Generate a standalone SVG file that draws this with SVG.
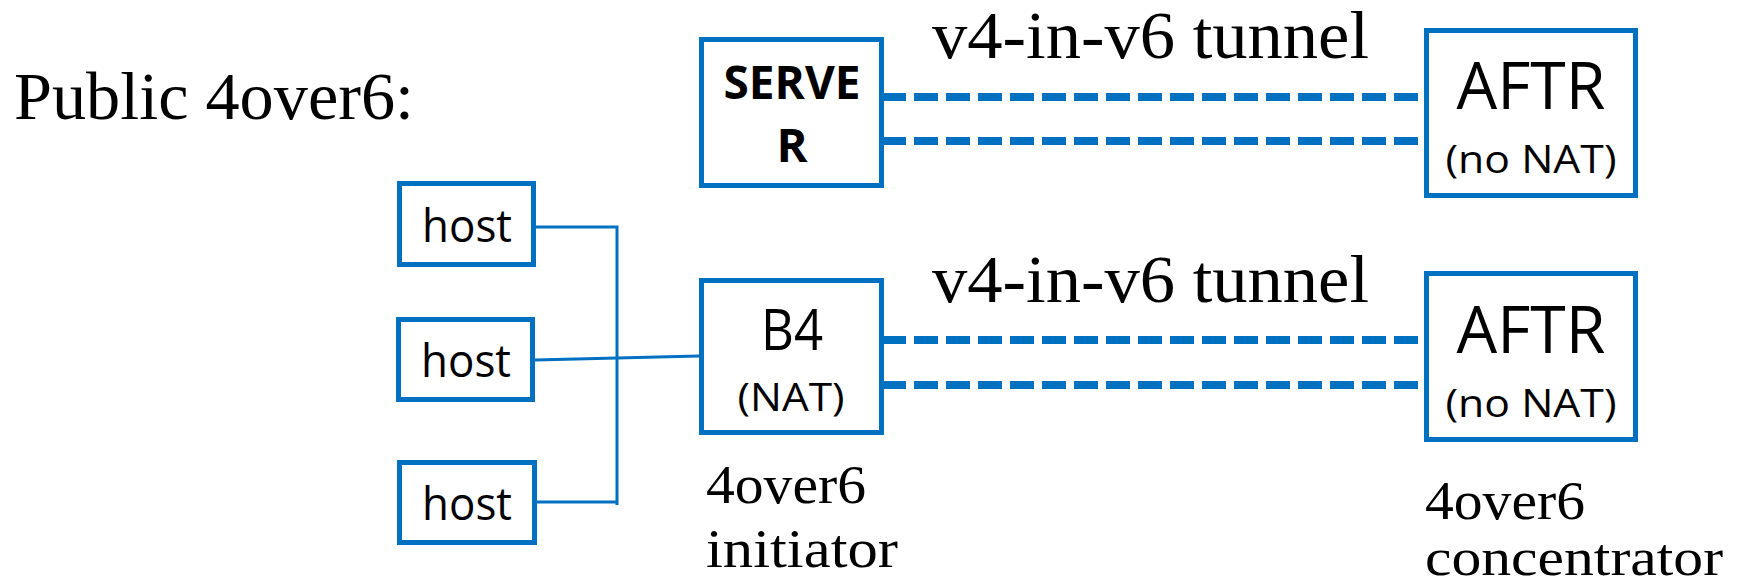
<svg xmlns="http://www.w3.org/2000/svg" width="1746" height="586" viewBox="0 0 1746 586">
<style>
.box{fill:#fff;stroke:#0070C0;stroke-width:5}
.bus{fill:none;stroke:#0070C0;stroke-width:3}
.tun{fill:none;stroke:#0070C0;stroke-width:8;stroke-dasharray:24 8}
.serif{font-family:"Liberation Serif","DejaVu Serif",serif;fill:#000}
.sans{font-family:"Open Sans","Noto Sans","Liberation Sans",sans-serif;fill:#000;text-anchor:middle}
</style>
<rect width="1746" height="586" fill="#fff"/>
<text class="serif" x="14" y="119" font-size="68" textLength="400" lengthAdjust="spacingAndGlyphs">Public 4over6:</text>
<g id="connectors">
<path class="bus" d="M536 227H617V505M537 502H617"/>
<path class="bus" d="M535 360L699 356"/>
<line class="tun" x1="882" y1="97" x2="1424" y2="97"/>
<line class="tun" x1="882" y1="141" x2="1424" y2="141"/>
<line class="tun" x1="882" y1="340" x2="1424" y2="340"/>
<line class="tun" x1="882" y1="385" x2="1424" y2="385"/>
</g>
<g id="label-tunnel-top"><text class="serif" x="932" y="58" font-size="68" textLength="437" lengthAdjust="spacingAndGlyphs">v4-in-v6 tunnel</text></g>
<g id="label-tunnel-bottom"><text class="serif" x="932" y="302" font-size="68" textLength="437" lengthAdjust="spacingAndGlyphs">v4-in-v6 tunnel</text></g>
<g id="server">
<rect class="box" x="701.5" y="39.5" width="180" height="146"/>
<text class="sans" x="792" y="99" font-size="47" font-weight="bold" textLength="137" lengthAdjust="spacingAndGlyphs">SERVE</text>
<text class="sans" x="792" y="162" font-size="47" font-weight="bold">R</text>
</g>
<g id="aftr-top">
<rect class="box" x="1426.5" y="30.5" width="209" height="165"/>
<text class="sans" x="1531" y="109" font-size="66" textLength="149" lengthAdjust="spacingAndGlyphs">AFTR</text>
<text class="sans" x="1531" y="173" font-size="39" textLength="171" lengthAdjust="spacingAndGlyphs">(no NAT)</text>
</g>
<g id="host1">
<rect class="box" x="399.5" y="183.5" width="134" height="81"/>
<text class="sans" x="467" y="242" font-size="46" textLength="90" lengthAdjust="spacingAndGlyphs">host</text>
</g>
<g id="host2">
<rect class="box" x="398.5" y="319.5" width="134" height="80"/>
<text class="sans" x="466" y="377" font-size="46" textLength="90" lengthAdjust="spacingAndGlyphs">host</text>
</g>
<g id="host3">
<rect class="box" x="399.5" y="462.5" width="135" height="80"/>
<text class="sans" x="467" y="520" font-size="46" textLength="90" lengthAdjust="spacingAndGlyphs">host</text>
</g>
<g id="b4">
<rect class="box" x="701.5" y="280.5" width="180" height="152"/>
<text class="sans" x="792" y="350" font-size="56" textLength="62" lengthAdjust="spacingAndGlyphs">B4</text>
<text class="sans" x="791" y="411" font-size="39" textLength="107" lengthAdjust="spacingAndGlyphs">(NAT)</text>
<text class="serif" x="706" y="503" font-size="54" textLength="160" lengthAdjust="spacingAndGlyphs">4over6</text>
<text class="serif" x="706" y="567" font-size="54" textLength="192" lengthAdjust="spacingAndGlyphs">initiator</text>
</g>
<g id="aftr-bottom">
<rect class="box" x="1426.5" y="273.5" width="209" height="166"/>
<text class="sans" x="1531" y="353" font-size="66" textLength="149" lengthAdjust="spacingAndGlyphs">AFTR</text>
<text class="sans" x="1531" y="417" font-size="39" textLength="171" lengthAdjust="spacingAndGlyphs">(no NAT)</text>
<text class="serif" x="1425" y="519" font-size="54" textLength="160" lengthAdjust="spacingAndGlyphs">4over6</text>
<text class="serif" x="1425" y="575" font-size="52" textLength="298" lengthAdjust="spacingAndGlyphs">concentrator</text>
</g>
</svg>
